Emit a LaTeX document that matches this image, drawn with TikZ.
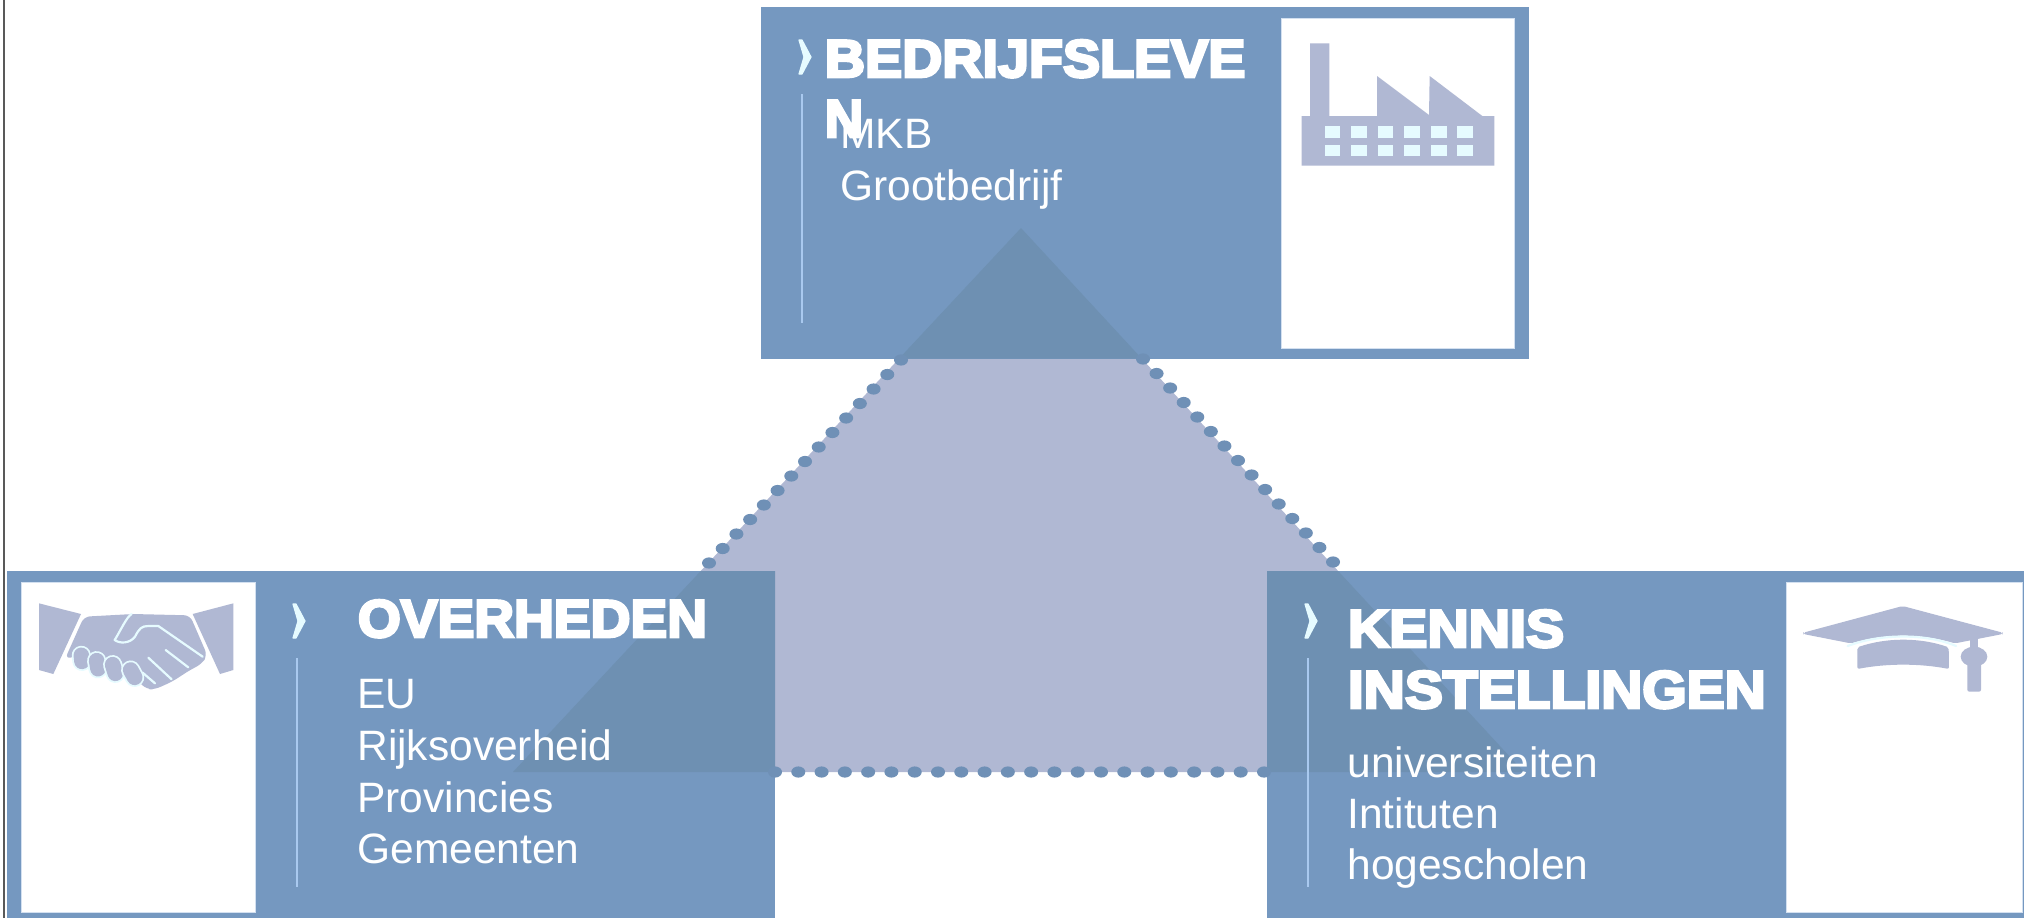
\documentclass[tikz,border=0pt]{standalone}
\usepackage{fontspec}
\setmainfont{Liberation Sans}
\newfontfamily\blackfont[FakeBold=5]{Liberation Sans Bold}
\usetikzlibrary{calc}
\definecolor{boxblue}{HTML}{7598C0}
\definecolor{overlap}{HTML}{6E90B2}
\definecolor{iconfill}{HTML}{B0B8D3}
\definecolor{pale}{HTML}{E6FBFF}
\definecolor{rulecol}{HTML}{A9C9EF}
\definecolor{edgecol}{HTML}{D3E0F0}
\tikzset{
  x=0.5pt,y=-0.5pt,
  panel/.style={fill=boxblue,draw=none},
  iconbox/.style={fill=white,draw=edgecol,line width=0.5pt},
  dotfill/.style={fill=boxblue!95!black},
  title/.style={anchor=base west,inner sep=0pt,text=white,font=\blackfont\fontsize{26.5}{30}\selectfont},
  body/.style={anchor=base west,inner sep=0pt,text=white,font=\fontsize{21.25}{25}\selectfont},
  sidebar/.style={draw=rulecol,line width=0.8pt},
  chev/.style={fill=pale,draw=pale,line width=0.6pt,line join=round},
  iconshape/.style={fill=iconfill,draw=none},
  seam/.style={draw=pale,line width=1.1pt,line cap=round,line join=round},
}
\newcommand\mychevron[2]{\path[chev,shift={(#1,#2)}] (0,0) -- (3,0) -- (12,17) -- (3,34) -- (0,34) -- (5,17) -- cycle;}
\begin{document}
\begin{tikzpicture}
\useasboundingbox (0,0) rectangle (2024,918);
\fill[white] (0,0) rectangle (2024,918);
\draw[draw=black!65,line width=1pt] (4,0) -- (4,918);

% triangle on the white ground
\coordinate (apex) at (1021,228);
\coordinate (baseL) at (513,772);
\coordinate (baseR) at (1524,772);
\fill[iconfill] (apex) -- (baseL) -- (baseR) -- cycle;

% panels
\path[panel] (761,7) rectangle (1529,358.5);
\path[panel] (7,571) rectangle (775,918);
\path[panel] (1267,571) rectangle (2024,918);
\path[iconbox] (1281,18) rectangle (1514,348);
\path[iconbox] (21,582) rectangle (255,912);
\path[iconbox] (1786,582) rectangle (2022,912);

% triangle seen through the panels
\begin{scope}
  \clip (761,7) rectangle (1529,358.5) (7,571) rectangle (775,918) (1267,571) rectangle (2024,918);
  \fill[overlap] (apex) -- (baseL) -- (baseR) -- cycle;
\end{scope}

% dotted edges
\coordinate (lA) at (709,563);
\coordinate (lB) at (901,360);
\coordinate (rA) at (1143,359);
\coordinate (rB) at (1333,562);
\coordinate (bA) at (775,772);
\coordinate (bB) at (1264,772);
\foreach \i in {0,...,14}{
  \fill[dotfill] ($(lA)!\i/14!(lB)$) ellipse [x radius=3.5pt,y radius=2.8pt];
  \fill[dotfill] ($(rA)!\i/14!(rB)$) ellipse [x radius=3.5pt,y radius=2.8pt];
}
\foreach \i in {0,...,21}{
  \fill[dotfill] ($(bA)!\i/21!(bB)$) ellipse [x radius=3.5pt,y radius=2.8pt];
}

% top panel text
\mychevron{799}{40}
\draw[sidebar] (802,94) -- (802,323);
\node[title] (t1) at (824.5,77) {\scalebox{1.05}[1]{BEDRIJFSLEVE}};
\node[title] (t1b) at (824.5,137) {N};
\node[body] (mkb) at (840,148) {MKB};
\node[body] (groot) at (840,200) {Grootbedrijf};

% left panel text
\mychevron{293}{604}
\draw[sidebar] (297,658) -- (297,887);
\node[title] (t2) at (357.5,637) {\scalebox{1.04}[1]{OVERHEDEN}};
\node[body] (eu) at (357,708) {EU};
\node[body] (rijk) at (357,760) {Rijksoverheid};
\node[body] (prov) at (357,812) {Provincies};
\node[body] (gem) at (357,863) {Gemeenten};

% right panel text
\mychevron{1305}{604}
\draw[sidebar] (1308,658) -- (1308,887);
\node[title] (t3) at (1347.5,647) {\scalebox{1.08}[1]{KENNIS}};
\node[title] (t3b) at (1347.5,708) {\scalebox{1.075}[1]{INSTELLINGEN}};
\node[body] (uni) at (1347,777) {universiteiten};
\node[body] (inst) at (1347,828) {Intituten};
\node[body] (hoge) at (1347,879) {hogescholen};

% factory
\begin{scope}[shift={(1280,20)},scale=1/3]
  \path[iconshape] (90,70) -- (148,70) -- (148,288) -- (291,288) -- (291,168) -- (447,285) -- (449,168) -- (607,288) -- (643,288) -- (643,437) -- (65,437) -- (65,288) -- (90,288) -- cycle;
  \foreach \wx in {134,214,293,373,453,532}{
    \fill[pale] (\wx,318) rectangle ++(47,35);
    \fill[pale] (\wx,374) rectangle ++(47,35);
  }
\end{scope}

% handshake
\begin{scope}[shift={(20,590)},scale=1/3]
  \path[iconshape] (57,40) -- (183,72) -- (100,252) -- (57,240) -- cycle;
  \path[iconshape] (640,40) -- (518,72) -- (600,252) -- (640,240) -- cycle;
  \path[iconshape,rounded corners=3pt] (192,80) -- (340,72) -- (510,76) -- (562,196) -- (545,222) -- (510,240) -- (458,274) -- (405,298) -- (380,298) -- (340,260) -- (200,190) -- (135,207) -- cycle;
  \foreach \ax/\ay/\bx/\by in {184/196/186/214,230/212/234/236,278/224/286/250,332/240/344/262}{
    \draw[draw=pale,line width=9.6pt,line cap=round] (\ax,\ay) -- (\bx,\by);
    \draw[draw=iconfill,line width=7.8pt,line cap=round] (\ax,\ay) -- (\bx,\by);
  }
  \draw[seam] (335,72) .. controls (320,80) and (300,125) .. (284,150) .. controls (300,162) and (330,160) .. (345,140) .. controls (358,115) and (365,108) .. (385,108) -- (415,108) -- (548,200);
  \draw[seam] (437,180) -- (505,232);
  \draw[seam] (385,203) -- (455,268);
  \draw[seam] (368,248) -- (405,280);
\end{scope}

% cap
\begin{scope}[shift={(1780,590)},scale=1/3]
  \path[iconshape,rounded corners=1pt] (70,128) -- (368,48) -- (668,128) -- (668,132) -- (525,160) .. controls (420,130) and (320,130) .. (212,160) -- (70,132) -- cycle;
  \path[iconshape,rounded corners=1pt] (232,172) .. controls (320,142) and (420,142) .. (506,172) -- (507,237) .. controls (420,220) and (320,220) .. (232,237) -- cycle;
  \draw[seam] (203,168) .. controls (300,130) and (440,130) .. (528,168);
  \path[iconshape] (571,148) rectangle (593,180);
  \path[iconshape] (582,200) ellipse [x radius=40,y radius=30];
  \path[iconshape,rounded corners=1pt] (562,215) rectangle (603,305);
\end{scope}
\end{tikzpicture}
\end{document}
